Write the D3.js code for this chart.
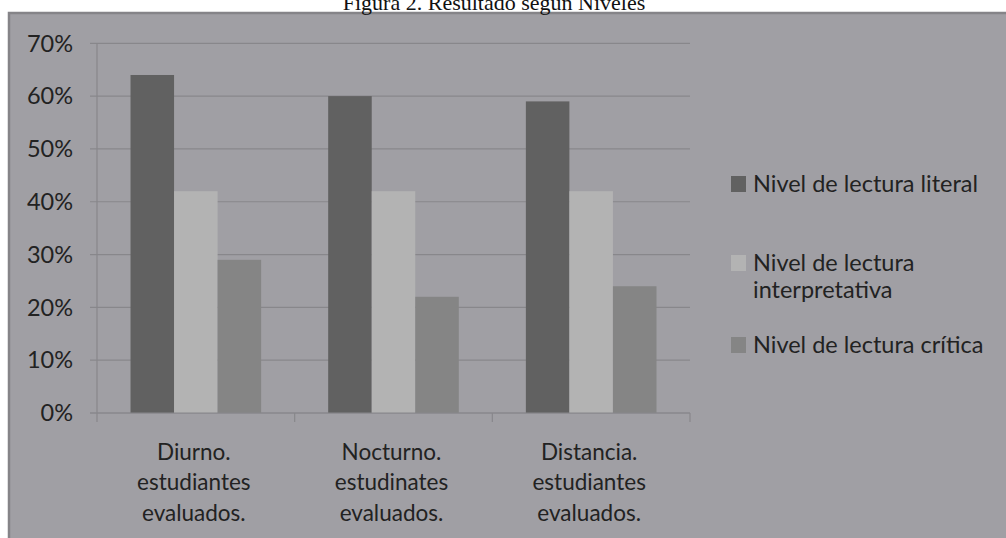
<!DOCTYPE html>
<html>
<head>
<meta charset="utf-8">
<script src="https://cdn.jsdelivr.net/npm/d3@7"></script>
<style>
  html, body { margin: 0; padding: 0; background: #ffffff; }
  svg { display: block; }
  text { font-family: Lato, "Noto Sans", sans-serif; fill: #222222; }
</style>
</head>
<body>
<svg id="chart" width="1006" height="538"></svg>
<script>
const title = "Figura 2. Resultado según Niveles";
const categories = ["Diurno. estudiantes evaluados.", "Nocturno. estudinates evaluados.", "Distancia. estudiantes evaluados."];
const categoryLines = [["Diurno.", "estudiantes", "evaluados."], ["Nocturno.", "estudinates", "evaluados."], ["Distancia.", "estudiantes", "evaluados."]];
const series = ["Nivel de lectura literal", "Nivel de lectura interpretativa", "Nivel de lectura crítica"];
const legendLines = [["Nivel de lectura literal"], ["Nivel de lectura", "interpretativa"], ["Nivel de lectura crítica"]];
const literalVals = [64, 60, 59];
const interpretativaVals = [42, 42, 42];
const criticaVals = [29, 22, 24];
const yTicks = [0, 10, 20, 30, 40, 50, 60, 70];
const colors = ["#616161", "#b3b3b3", "#858585"];

const values = [literalVals, interpretativaVals, criticaVals];

const svg = d3.select("#chart");

// background panel
svg.append("rect").attr("x", 9).attr("y", 13).attr("width", 1000).attr("height", 530)
  .attr("fill", "#a09fa4").attr("stroke", "#858488").attr("stroke-width", 2.5);

// title (cut off at top, as in the source)
svg.append("text").attr("x", 494).attr("y", 10).attr("text-anchor", "middle")
  .style("font-family", "'Liberation Serif', 'DejaVu Serif', serif")
  .style("font-size", "22px").style("fill", "#111").text(title);

const plotLeft = 97, plotRight = 690, plotTop = 43.3, plotBottom = 413;

const x0 = d3.scaleBand().domain(categories).range([plotLeft, plotRight]).paddingInner(0).paddingOuter(0);
const x1 = d3.scaleBand().domain(series).range([0, x0.bandwidth()]).paddingInner(0).paddingOuter(0.77);
const y = d3.scaleLinear().domain([0, 70]).range([plotBottom, plotTop]);

// gridlines
svg.append("g").selectAll("line").data(yTicks).join("line")
  .attr("x1", plotLeft - 7).attr("x2", plotRight)
  .attr("y1", d => y(d)).attr("y2", d => y(d))
  .attr("stroke", "#88878b").attr("stroke-width", 1.2);

// y axis line
svg.append("line").attr("x1", plotLeft).attr("x2", plotLeft).attr("y1", plotTop).attr("y2", plotBottom)
  .attr("stroke", "#88878b").attr("stroke-width", 1.2);

// y tick labels
svg.append("g").selectAll("text").data(yTicks).join("text")
  .attr("x", 73).attr("y", d => y(d)).attr("dy", "0.35em").attr("text-anchor", "end")
  .style("font-size", "23.5px").text(d => d + "%");

// bars
const groups = svg.append("g").selectAll("g").data(categories).join("g")
  .attr("transform", c => `translate(${x0(c)},0)`);
groups.selectAll("rect").data((c, i) => series.map((s, j) => ({ s, j, v: values[j][i] })))
  .join("rect")
  .attr("x", d => x1(d.s)).attr("width", x1.bandwidth())
  .attr("y", d => y(d.v)).attr("height", d => y(0) - y(d.v))
  .attr("fill", d => colors[d.j]);

// x axis line + ticks
svg.append("line").attr("x1", plotLeft - 7).attr("x2", plotRight).attr("y1", plotBottom).attr("y2", plotBottom)
  .attr("stroke", "#88878b").attr("stroke-width", 1.2);
const tickXs = categories.map(c => x0(c)).concat([plotRight]);
svg.append("g").selectAll("line").data(tickXs).join("line")
  .attr("x1", d => d).attr("x2", d => d).attr("y1", plotBottom).attr("y2", plotBottom + 9)
  .attr("stroke", "#88878b").attr("stroke-width", 1.2);

// category labels
categoryLines.forEach((lines, i) => {
  const cx = x0(categories[i]) + x0.bandwidth() / 2 - 2;
  svg.append("g").selectAll("text").data(lines).join("text")
    .attr("x", cx).attr("y", (d, k) => 452 + k * 30.5).attr("dy", "0.35em")
    .attr("text-anchor", "middle").style("font-size", "22.5px").text(d => d);
});

// legend
const legendRows = [184, 263, 345];
const lg = svg.append("g");
legendLines.forEach((lines, j) => {
  lg.append("rect").attr("x", 731).attr("y", legendRows[j] - 8).attr("width", 15).attr("height", 16)
    .attr("fill", colors[j]);
  lg.append("g").selectAll("text").data(lines).join("text")
    .attr("x", 753).attr("y", (d, k) => legendRows[j] + k * 27).attr("dy", "0.35em")
    .style("font-size", "23.5px").text(d => d);
});
</script>
</body>
</html>
